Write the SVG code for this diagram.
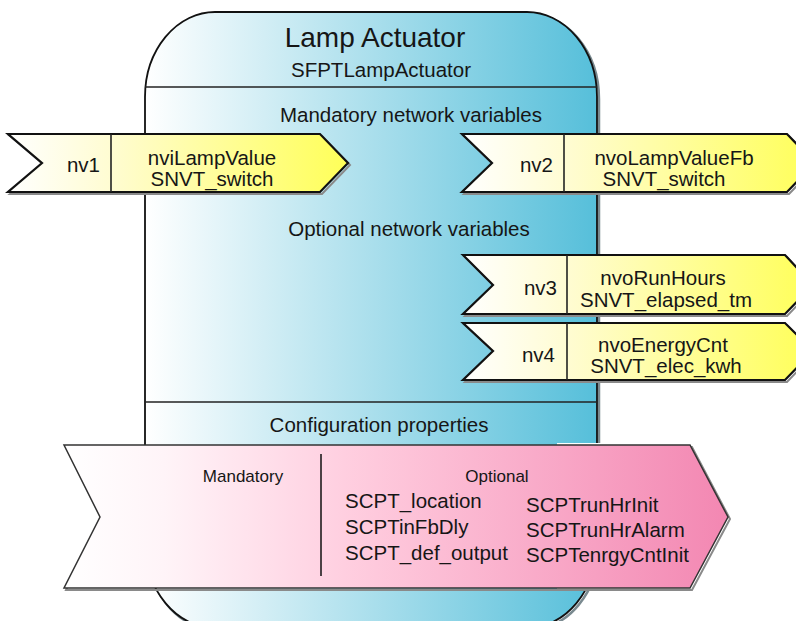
<svg xmlns="http://www.w3.org/2000/svg" width="796" height="621" viewBox="0 0 796 621">
<style>
  text { font-family: "Liberation Sans", Arial, sans-serif; fill: #161616; }
  .t28 { font-size: 28px; }
  .t20 { font-size: 20.5px; }
  .t17 { font-size: 17px; }
  .mid { text-anchor: middle; }
  .end { text-anchor: end; }
  .nvshape { stroke: #111; stroke-width: 2.2; stroke-linejoin: miter; }
  .nvshadow { fill: none; stroke: #8a8a8a; stroke-width: 2; }
  .div { stroke: #222; stroke-width: 1.6; }
  .sep { stroke: #222; stroke-width: 1.6; }
</style>
<defs>
  <linearGradient id="gBody" x1="0" y1="0" x2="1" y2="0">
    <stop offset="0" stop-color="#ffffff"/>
    <stop offset="0.45" stop-color="#b3e2ee"/>
    <stop offset="1" stop-color="#56bfda"/>
  </linearGradient>
  <linearGradient id="gNv" x1="0" y1="0" x2="1" y2="0">
    <stop offset="0" stop-color="#ffffff"/>
    <stop offset="0.3" stop-color="#fffcd2"/>
    <stop offset="1" stop-color="#ffff58"/>
  </linearGradient>
  <linearGradient id="gCfg" x1="0" y1="0" x2="1" y2="0">
    <stop offset="0" stop-color="#ffffff"/>
    <stop offset="0.15" stop-color="#fff4f8"/>
    <stop offset="0.42" stop-color="#ffcfe0"/>
    <stop offset="1" stop-color="#f387b2"/>
  </linearGradient>
</defs>

<g id="lamp-actuator">
  <rect x="147" y="14" width="452" height="616" rx="70" ry="85" fill="none" stroke="#7a8a90" stroke-width="2.5"/>
  <rect x="145" y="12" width="452" height="616" rx="70" ry="85" fill="url(#gBody)" stroke="#111" stroke-width="1.8"/>
  <line class="sep" x1="145" y1="87" x2="597" y2="87"/>
  <line class="sep" x1="145" y1="402" x2="597" y2="402"/>
  <text class="t28 mid" x="375" y="47">Lamp Actuator</text>
  <text class="t20 mid" x="381" y="77">SFPTLampActuator</text>
  <text class="t20 mid" x="411" y="122">Mandatory network variables</text>
  <text class="t20 mid" x="409" y="236">Optional network variables</text>
  <text class="t20 mid" x="379" y="432">Configuration properties</text>
</g>

<g id="nv1">
  <polygon class="nvshadow" points="10,136 322,136 350,165 322,194 10,194 44,165"/>
  <polygon class="nvshape" fill="url(#gNv)" points="8,134 320,134 348,163 320,192 8,192 42,163"/>
  <line class="div" x1="111" y1="134" x2="111" y2="192"/>
  <text class="t20 end" x="100" y="172">nv1</text>
  <text class="t20 mid" x="212" y="165">nviLampValue</text>
  <text class="t20 mid" x="212" y="186">SNVT_switch</text>
</g>

<g id="nv2">
  <polygon class="nvshadow" points="464,136 789,136 817,165 789,194 464,194 494,165"/>
  <polygon class="nvshape" fill="url(#gNv)" points="462,134 787,134 815,163 787,192 462,192 492,163"/>
  <line class="div" x1="564" y1="134" x2="564" y2="192"/>
  <text class="t20 end" x="553" y="172">nv2</text>
  <text class="t20 mid" x="674" y="165">nvoLampValueFb</text>
  <text class="t20 mid" x="664" y="186">SNVT_switch</text>
</g>

<g id="nv3">
  <polygon class="nvshadow" points="465,257 787,257 815,287 787,316 465,316 495,287"/>
  <polygon class="nvshape" fill="url(#gNv)" points="463,255 785,255 813,285 785,314 463,314 493,285"/>
  <line class="div" x1="567" y1="255" x2="567" y2="314"/>
  <text class="t20 end" x="557" y="295">nv3</text>
  <text class="t20 mid" x="663" y="285">nvoRunHours</text>
  <text class="t20 mid" x="666" y="307">SNVT_elapsed_tm</text>
</g>

<g id="nv4">
  <polygon class="nvshadow" points="465,325 787,325 815,353 787,382 465,382 495,353"/>
  <polygon class="nvshape" fill="url(#gNv)" points="463,323 785,323 813,351 785,380 463,380 493,351"/>
  <line class="div" x1="567" y1="323" x2="567" y2="380"/>
  <text class="t20 end" x="555" y="362">nv4</text>
  <text class="t20 mid" x="663" y="352">nvoEnergyCnt</text>
  <text class="t20 mid" x="666" y="373">SNVT_elec_kwh</text>
</g>

<g id="config-properties">
  <rect x="557" y="443" width="50" height="146" fill="#ffffff"/>
  <polygon fill="none" stroke="#8a8a8a" stroke-width="2" points="66,447 692,447 730,519 692,590 66,590 102,519"/>
  <polygon fill="url(#gCfg)" stroke="#333" stroke-width="1.5" points="64,445 690,445 728,517 690,588 64,588 100,517"/>
  <line x1="321" y1="454" x2="321" y2="576" stroke="#111" stroke-width="1.5"/>
  <text class="t17 mid" x="243" y="482">Mandatory</text>
  <text class="t17 mid" x="497" y="482">Optional</text>
  <text class="t20" x="345" y="508">SCPT_location</text>
  <text class="t20" x="345" y="534">SCPTinFbDly</text>
  <text class="t20" x="345" y="560">SCPT_def_output</text>
  <text class="t20" x="526" y="512">SCPTrunHrInit</text>
  <text class="t20" x="526" y="537">SCPTrunHrAlarm</text>
  <text class="t20" x="526" y="562">SCPTenrgyCntInit</text>
</g>
</svg>
